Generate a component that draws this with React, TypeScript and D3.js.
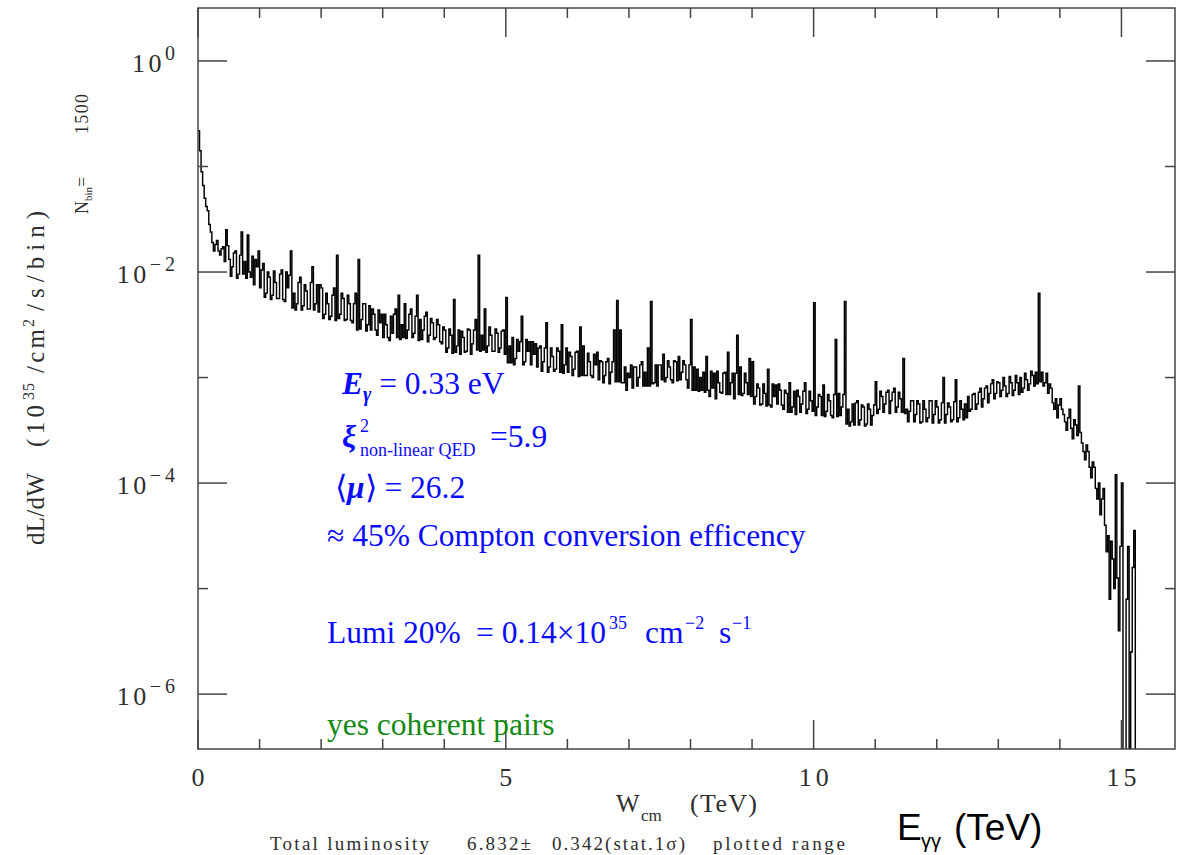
import React from 'react';
import * as d3 from 'd3';

// ---- data ----------------------------------------------------------------
// the spectrum is reproduced with half-bins of 0.025 TeV: bin i has a first
// half (LOG_LUMI_A[i]) starting at i*0.05 TeV and a second half (LOG_LUMI_B[i])
const BIN_WIDTH_TEV = 0.05;
// log10( dL/dW ), first half-bins
const LOG_LUMI_A: number[] = [
  -0.66, -1.05, -1.30, -1.42, -1.62, -1.80, -1.70, -1.84, -1.76, -1.60,
  -1.88, -1.95, -1.80, -2.02, -1.62, -1.90, -1.65, -2.05, -2.12, -1.95,
  -2.15, -1.92, -2.20, -2.05, -2.22, -2.10, -2.25, -1.98, -2.28, -2.15,
  -1.80, -2.20, -2.30, -2.05, -2.32, -2.18, -2.35, -1.95, -2.30, -2.38,
  -2.15, -2.40, -2.30, -2.42, -2.15, -1.84, -2.40, -2.25, -2.45, -2.30,
  -2.48, -2.20, -1.88, -2.45, -2.30, -2.50, -2.55, -2.40, -2.60, -2.48,
  -2.62, -2.50, -2.65, -2.58, -2.35, -2.22, -2.50, -2.30, -2.55, -2.35,
  -2.58, -2.22, -2.45, -2.55, -2.38, -2.60, -2.48, -2.62, -2.50, -2.68,
  -2.55, -2.72, -2.60, -2.26, -2.70, -2.78, -2.62, -2.75, -2.55, -2.68,
  -2.45, -1.84, -2.60, -2.35, -2.70, -2.60, -2.75, -2.58, -2.72, -2.55,
  -2.24, -2.70, -2.62, -2.82, -2.75, -2.42, -2.85, -2.75, -2.88, -2.78,
  -2.90, -2.70, -2.85, -2.48, -2.90, -2.80, -2.92, -2.75, -2.50, -2.88,
  -2.95, -2.80, -2.92, -2.75, -2.52, -2.70, -2.98, -2.85, -3.00, -2.88,
  -3.02, -2.85, -2.98, -2.82, -2.95, -2.55, -2.27, -2.55, -3.05, -3.12,
  -3.00, -3.10, -2.90, -3.00, -2.85, -2.95, -2.72, -2.28, -3.05, -3.08,
  -2.88, -2.78, -3.00, -2.90, -3.05, -2.85, -2.80, -2.95, -2.88, -3.10,
  -2.45, -2.90, -2.92, -3.00, -2.95, -2.80, -3.18, -3.10, -3.20, -3.05,
  -3.15, -2.95, -2.76, -3.05, -3.20, -2.60, -2.90, -3.15, -3.05, -2.82,
  -2.85, -3.18, -3.10, -3.25, -3.15, -2.92, -3.28, -3.18, -3.25, -3.12,
  -3.30, -3.15, -3.05, -3.28, -3.35, -3.18, -3.25, -3.05, -3.30, -3.22,
  -2.29, -3.28, -3.18, -3.07, -3.32, -3.22, -3.38, -2.64, -3.15, -3.28,
  -2.28, -3.30, -3.42, -3.45, -3.22, -3.40, -3.28, -3.44, -3.30, -3.36,
  -3.04, -3.30, -3.18, -3.25, -3.12, -3.22, -3.10, -3.28, -3.20, -2.82,
  -3.30, -3.32, -3.22, -3.35, -3.25, -3.42, -3.30, -3.38, -3.22, -3.35,
  -3.28, -3.40, -3.00, -3.35, -3.28, -3.40, -3.02, -3.38, -3.30, -3.25,
  -3.18, -3.30, -3.15, -3.25, -3.10, -3.20, -3.08, -3.15, -3.02, -3.15,
  -3.05, -3.12, -3.08, -3.15, -3.05, -3.12, -3.05, -3.00, -3.10, -3.02,
  -3.06, -2.98, -2.95, -2.20, -2.95, -3.05, -3.15, -3.10, -3.30, -3.38,
  -3.20, -3.35, -3.50, -3.30, -3.58, -3.45, -3.08, -3.62, -3.78, -3.70,
  -3.95, -3.85, -4.15, -4.30, -4.05, -4.65, -5.10, -4.72, -3.92, -5.40,
  -4.00, -6.80, -4.60, -5.60, -4.45, -7.00,
];
// log10( dL/dW ), second half-bins
const LOG_LUMI_B: number[] = [
  -0.85, -1.18, -1.38, -1.55, -1.72, -1.74, -1.80, -1.78, -1.90, -1.75,
  -2.04, -1.82, -2.06, -1.84, -2.02, -2.06, -2.00, -1.85, -1.88, -1.80,
  -1.98, -2.24, -2.00, -2.26, -1.99, -2.25, -2.02, -2.26, -2.00, -2.03,
  -2.34, -2.36, -2.10, -2.36, -2.12, -2.35, -2.10, -2.36, -2.12, -2.12,
  -2.44, -2.20, -2.45, -2.22, -2.46, -2.44, -2.20, -2.46, -2.22, -2.46,
  -2.30, -2.55, -2.54, -2.30, -2.56, -2.32, -2.35, -2.55, -2.36, -2.40,
  -2.40, -2.62, -2.42, -2.40, -2.62, -2.64, -2.62, -2.63, -2.40, -2.62,
  -2.42, -2.65, -2.64, -2.42, -2.66, -2.44, -2.64, -2.45, -2.66, -2.52,
  -2.76, -2.54, -2.77, -2.76, -2.55, -2.56, -2.76, -2.54, -2.78, -2.55,
  -2.74, -2.75, -2.74, -2.76, -2.52, -2.75, -2.54, -2.76, -2.56, -2.78,
  -2.86, -2.86, -2.88, -2.64, -2.66, -2.88, -2.64, -2.66, -2.66, -2.68,
  -2.72, -2.94, -2.72, -2.95, -2.72, -2.94, -2.72, -2.95, -2.96, -2.72,
  -2.76, -2.98, -2.76, -2.99, -2.98, -2.98, -2.77, -2.98, -2.78, -2.76,
  -2.84, -3.05, -2.85, -3.06, -2.85, -3.04, -3.04, -3.05, -2.90, -2.96,
  -2.88, -2.90, -3.08, -2.88, -3.08, -3.08, -3.08, -3.06, -2.88, -2.88,
  -3.02, -3.04, -2.84, -3.02, -2.84, -3.03, -3.02, -2.84, -3.02, -2.88,
  -3.12, -3.12, -3.13, -3.12, -3.14, -3.12, -2.94, -2.96, -2.94, -3.14,
  -2.96, -3.16, -3.16, -2.96, -2.96, -3.16, -3.17, -2.96, -3.16, -3.18,
  -3.25, -3.06, -3.26, -3.06, -3.27, -3.26, -3.06, -3.07, -3.06, -3.26,
  -3.12, -3.33, -3.33, -3.13, -3.12, -3.33, -3.13, -3.34, -3.13, -3.32,
  -3.36, -3.16, -3.36, -3.37, -3.16, -3.36, -3.16, -3.37, -3.36, -3.16,
  -3.44, -3.46, -3.25, -3.24, -3.45, -3.26, -3.46, -3.25, -3.45, -3.26,
  -3.34, -3.13, -3.33, -3.14, -3.34, -3.14, -3.33, -3.14, -3.33, -3.34,
  -3.42, -3.22, -3.42, -3.22, -3.43, -3.22, -3.42, -3.22, -3.43, -3.22,
  -3.43, -3.24, -3.43, -3.24, -3.42, -3.23, -3.42, -3.22, -3.40, -3.38,
  -3.32, -3.16, -3.30, -3.14, -3.28, -3.10, -3.24, -3.06, -3.20, -3.04,
  -3.18, -3.00, -3.18, -2.99, -3.17, -2.98, -3.16, -3.14, -2.96, -3.12,
  -2.94, -3.08, -3.06, -3.04, -3.08, -2.96, -3.06, -3.24, -3.20, -3.26,
  -3.30, -3.42, -3.38, -3.48, -3.40, -3.55, -3.52, -3.70, -3.64, -3.85,
  -3.80, -4.05, -4.00, -4.15, -4.40, -4.50, -4.55, -5.00, -4.90, -4.60,
  -6.70, -5.10, -6.70, -4.80, -6.90, -7.00,
];

const X_DOMAIN = [0, 15.87];
const X_TICKS_MAJOR = [0, 5, 10, 15];
const X_TICKS_MINOR = [1, 2, 3, 4, 6, 7, 8, 9, 11, 12, 13, 14];
const Y_LOG_DOMAIN = [-6.52, 0.502];
const Y_DECADES_MAJOR = [0, -2, -4, -6];
const Y_DECADES_MINOR = [-1, -3, -5];

// ---- layout ----------------------------------------------------------------
const W = 1189;
const H = 855;
const L = 198, R = 1175, T = 8, B = 749;
const SERIF = "'Liberation Serif', 'Times New Roman', serif";
const SANS = "'Liberation Sans', Arial, sans-serif";
const GRAY = '#2e2e2e';
const BLUE = '#0a0aff';
const GREEN = '#138a13';

export default function App() {
  const x = d3.scaleLinear().domain(X_DOMAIN).range([L, R]);
  const y = d3.scaleLog().domain([10 ** Y_LOG_DOMAIN[0], 10 ** Y_LOG_DOMAIN[1]]).range([B, T]);

  const half = BIN_WIDTH_TEV / 2;
  const pts: [number, number][] = [];
  LOG_LUMI_A.forEach((v, i) => {
    pts.push([i * BIN_WIDTH_TEV, 10 ** v]);
    pts.push([i * BIN_WIDTH_TEV + half, 10 ** LOG_LUMI_B[i]]);
  });
  pts.push([LOG_LUMI_A.length * BIN_WIDTH_TEV, 10 ** LOG_LUMI_B[LOG_LUMI_B.length - 1]]);
  const path = d3
    .line<[number, number]>()
    .x((d) => x(d[0]))
    .y((d) => y(d[1]))
    .curve(d3.curveStepAfter)(pts) as string;

  const majorLen = 29;
  const minorLen = 10;

  const yTitle: { t: string; rx: number; len: number; fs: number; dy: number }[] = [
    { t: 'dL/dW', rx: 0, len: 72, fs: 25, dy: 0 },
    { t: '(10', rx: 98, len: 42, fs: 25, dy: 0 },
    { t: '35', rx: 145, len: 17, fs: 16, dy: -10 },
    { t: '/cm', rx: 172, len: 44, fs: 25, dy: 0 },
    { t: '2', rx: 218, len: 9, fs: 16, dy: -10 },
    { t: '/s/bin)', rx: 234, len: 100, fs: 25, dy: 0 },
  ];

  return (
    <svg width={W} height={H} style={{ position: 'absolute', left: 0, top: 0, background: '#fff' }}>
      <defs>
        <clipPath id="plotClip">
          <rect x={L} y={T} width={R - L} height={B - T} />
        </clipPath>
      </defs>
      <rect x={0} y={0} width={W} height={H} fill="#fff" />

      {/* histogram */}
      <path d={path} fill="none" stroke="#000" strokeWidth={1.45} clipPath="url(#plotClip)" />

      {/* frame */}
      <rect x={L} y={T} width={R - L} height={B - T} fill="none" stroke="#444" strokeWidth={1.5} />

      {/* y ticks */}
      {Y_DECADES_MAJOR.map((e) => (
        <g key={'ym' + e} stroke="#444" strokeWidth={1.5}>
          <line x1={L} x2={L + majorLen} y1={y(10 ** e)} y2={y(10 ** e)} />
          <line x1={R} x2={R - majorLen} y1={y(10 ** e)} y2={y(10 ** e)} />
        </g>
      ))}
      {Y_DECADES_MINOR.map((e) => (
        <g key={'yn' + e} stroke="#444" strokeWidth={1.5}>
          <line x1={L} x2={L + minorLen} y1={y(10 ** e)} y2={y(10 ** e)} />
          <line x1={R} x2={R - minorLen} y1={y(10 ** e)} y2={y(10 ** e)} />
        </g>
      ))}
      {/* x ticks */}
      {X_TICKS_MAJOR.map((v) => (
        <g key={'xm' + v} stroke="#444" strokeWidth={1.5}>
          <line x1={x(v)} x2={x(v)} y1={B} y2={B - majorLen} />
          <line x1={x(v)} x2={x(v)} y1={T} y2={T + majorLen} />
        </g>
      ))}
      {X_TICKS_MINOR.map((v) => (
        <g key={'xn' + v} stroke="#444" strokeWidth={1.5}>
          <line x1={x(v)} x2={x(v)} y1={B} y2={B - minorLen} />
          <line x1={x(v)} x2={x(v)} y1={T} y2={T + minorLen} />
        </g>
      ))}

      {/* y tick labels */}
      {Y_DECADES_MAJOR.map((e) => (
        <text key={'yl' + e} x={179} y={y(10 ** e) + 11} textAnchor="end" fontFamily={SERIF} fontSize={26} fill={GRAY} letterSpacing={3.5}>
          10
          <tspan fontSize={20} dy={-12} letterSpacing={4}>{e === 0 ? '0' : '\u2212' + -e}</tspan>
        </text>
      ))}
      {/* x tick labels */}
      {X_TICKS_MAJOR.map((v) => (
        <text key={'xl' + v} x={x(v) + 2} y={786} textAnchor="middle" fontFamily={SERIF} fontSize={26} fill={GRAY} letterSpacing={4}>
          {v}
        </text>
      ))}

      {/* y axis title */}
      <g transform="translate(44,545) rotate(-90)">
        {yTitle.map((p) => (
          <text key={p.t} x={p.rx} y={p.dy} fontFamily={SERIF} fontSize={p.fs} fill={GRAY} textLength={p.len} lengthAdjust="spacing">
            {p.t}
          </text>
        ))}
      </g>
      {/* N_bin */}
      <g transform="translate(88,214) rotate(-90)">
        <text x={0} y={0} fontFamily={SERIF} fontSize={18} fill={GRAY}>
          N<tspan fontSize={11} dy={4}>bin</tspan>
          <tspan dy={-4}>=</tspan>
        </text>
        <text x={80} y={0} fontFamily={SERIF} fontSize={18} fill={GRAY} textLength={40} lengthAdjust="spacing">1500</text>
      </g>

      {/* x axis title */}
      <text x={616} y={812} fontFamily={SERIF} fontSize={25} fill={GRAY}>W</text>
      <text x={641} y={821} fontFamily={SERIF} fontSize={17} fill={GRAY}>cm</text>
      <text x={690} y={812} fontFamily={SERIF} fontSize={26} fill={GRAY} textLength={67} lengthAdjust="spacing">(TeV)</text>

      {/* bottom line */}
      <text x={270} y={850} fontFamily={SERIF} fontSize={19} fill={GRAY} textLength={159} lengthAdjust="spacing">Total luminosity</text>
      <text x={467} y={850} fontFamily={SERIF} fontSize={19} fill={GRAY} textLength={64} lengthAdjust="spacing">6.832±</text>
      <text x={552} y={850} fontFamily={SERIF} fontSize={19} fill={GRAY} textLength={133} lengthAdjust="spacing">0.342(stat.1σ)</text>
      <text x={713} y={850} fontFamily={SERIF} fontSize={19} fill={GRAY} textLength={132} lengthAdjust="spacing">plotted range</text>

      {/* E_gamma gamma (TeV) */}
      <text x={897} y={840} fontFamily={SANS} fontSize={37} fill="#000">E</text>
      <text x={921} y={848} fontFamily={SANS} fontSize={20} fill="#000">γγ</text>
      <text x={954} y={840} fontFamily={SANS} fontSize={37} fill="#000">(TeV)</text>

      {/* blue annotations */}
      <g fontFamily={SERIF} fill={BLUE}>
        <text x={342} y={394} fontSize={31.5}>
          <tspan fontWeight="bold" fontStyle="italic">E</tspan>
          <tspan fontWeight="bold" fontStyle="italic" fontSize={20} dy={7}>γ</tspan>
          <tspan dy={-7}> = 0.33 eV</tspan>
        </text>
        <text x={342} y={447} fontSize={31.5} fontWeight="bold" fontStyle="italic">ξ</text>
        <text x={360} y={432} fontSize={18}>2</text>
        <text x={360} y={456} fontSize={18}>non-linear QED</text>
        <text x={490} y={447} fontSize={31.5}>=5.9</text>
        <text x={335} y={498} fontSize={31.5}>
          ⟨<tspan fontWeight="bold" fontStyle="italic">μ</tspan>⟩ = 26.2
        </text>
        <text x={327} y={546} fontSize={31.5}>≈ 45% Compton conversion efficency</text>
        <text x={327} y={643} fontSize={31.5}>Lumi 20%</text>
        <text x={476} y={643} fontSize={31.5}>= 0.14×10</text>
        <text x={609} y={629} fontSize={18}>35</text>
        <text x={645} y={643} fontSize={31.5}>cm</text>
        <text x={685} y={629} fontSize={18}>−2</text>
        <text x={719} y={643} fontSize={31.5}>s</text>
        <text x={732} y={629} fontSize={18}>−1</text>
      </g>
      <text x={327} y={735} fontFamily={SERIF} fontSize={31.5} fill={GREEN}>yes coherent pairs</text>
    </svg>
  );
}
